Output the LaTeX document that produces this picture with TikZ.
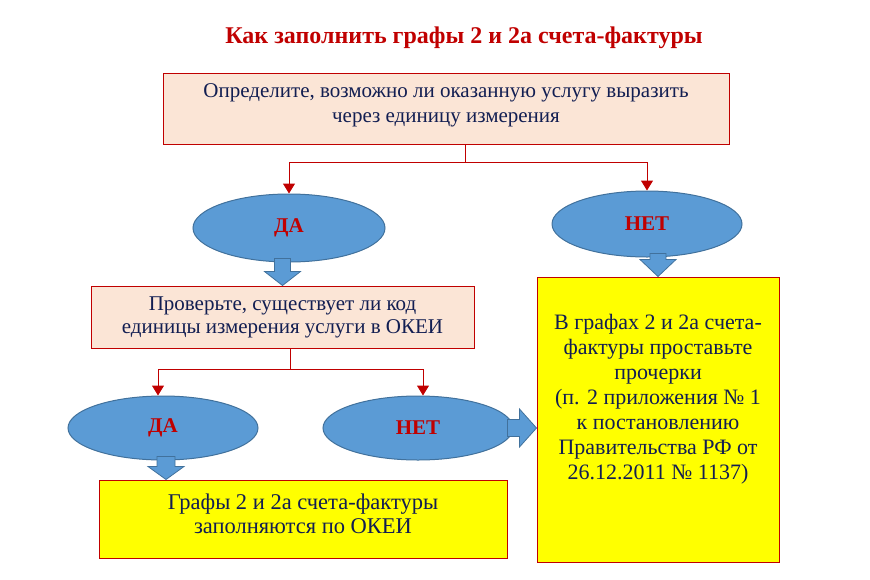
\documentclass[tikz,border=0pt]{standalone}
\usepackage{fontspec}
\setmainfont{Liberation Serif}
\usetikzlibrary{arrows.meta,calc,shapes.geometric}
\definecolor{tred}{RGB}{192,0,0}
\definecolor{peach}{RGB}{251,229,214}
\definecolor{navy}{RGB}{18,30,82}
\definecolor{ellfill}{RGB}{91,155,213}
\definecolor{ellline}{RGB}{65,113,156}
\definecolor{yel}{RGB}{255,255,0}
\tikzset{
  x=1pt,y=-1pt,
  peachbox/.style={draw=tred,fill=peach,line width=1pt,inner sep=0pt},
  yelbox/.style={draw=tred,fill=yel,line width=1pt,inner sep=0pt},
  boxtext/.style={text=navy,align=center,inner sep=0pt},
  oval/.style={ellipse,draw=ellline,fill=ellfill,line width=1pt,inner sep=0pt,text=tred,font=\fontsize{21}{24}\selectfont\bfseries},
  conn/.style={draw=tred,line width=1pt,-{Triangle[length=10pt,width=12pt]}},
  barrow/.style={draw=ellline,fill=ellfill,line width=0.8pt,line join=miter},
}
\begin{document}
\begin{tikzpicture}
\useasboundingbox (0,0) rectangle (870,579);
\node[text=tred,font=\fontsize{24}{28}\selectfont\bfseries] (title) at (464,38) {Как заполнить графы 2 и 2а счета-фактуры};
\node[peachbox,minimum width=566pt,minimum height=71pt] (box1) at (446,108.5) {};
\node[boxtext,font=\fontsize{21}{25}\selectfont] (box1t) at ([yshift=3pt]box1.center) {Определите, возможно ли оказанную услугу выразить\\через единицу  измерения};
\node[oval,minimum width=192pt,minimum height=68pt] (da1) at (289,228) {ДА};
\node[oval,minimum width=190pt,minimum height=66pt] (net1) at (647,224) {НЕТ};
\node[peachbox,minimum width=383pt,minimum height=62pt] (box2) at (282.5,317) {};
\node[boxtext,font=\fontsize{21}{23}\selectfont] (box2t) at (box2.center) {Проверьте, существует ли код\\единицы измерения  услуги в ОКЕИ};
\node[oval,minimum width=190pt,minimum height=64pt] (da2) at (163,428) {ДА};
\node[oval,minimum width=190pt,minimum height=64pt] (net2) at (418,428) {НЕТ};
\node[yelbox,minimum width=408pt,minimum height=78pt] (box3) at (303,519) {};
\node[boxtext,font=\fontsize{22.5}{24}\selectfont] (box3t) at ([yshift=5pt]box3.center) {Графы 2 и 2а счета-фактуры\\заполняются по ОКЕИ};
\node[yelbox,minimum width=242pt,minimum height=285pt] (box4) at (658,419.5) {};
\node[boxtext,font=\fontsize{22}{25}\selectfont] (box4t) at ([yshift=20pt]box4.center) {В графах 2 и 2а счета-\\фактуры проставьте\\прочерки\\(п. 2 приложения № 1\\к постановлению\\Правительства РФ от\\26.12.2011 № 1137)};
% thin connectors
\coordinate (s1) at ([xshift=19pt]box1.south);
\draw[conn] (s1) -- ++(0,18) -| (da1.north);
\draw[conn] (s1) -- ++(0,18) -| (net1.north);
\coordinate (s2) at ([xshift=7.5pt]box2.south);
\draw[conn] (s2) -- ++(0,21) -| ([xshift=-5pt]da2.north);
\draw[conn] (s2) -- ++(0,21) -| ([xshift=5pt]net2.north);
% block arrows
\draw[barrow] let \p1=(da1.south), \p2=(box2.north) in
  (\x2-8pt,\y1+4pt) -- (\x2-8pt,\y2+14pt) -- (\x2-18pt,\y2+14pt) -- (\x2,\y2) -- (\x2+18pt,\y2+14pt) -- (\x2+8pt,\y2+14pt) -- (\x2+8pt,\y1+4pt) -- cycle;
\draw[barrow] let \p1=(net1.south), \p2=(box4.north) in
  (\x2-8pt,\y1+4pt) -- (\x2-8pt,\y2+17pt) -- (\x2-18pt,\y2+17pt) -- (\x2,\y2) -- (\x2+18pt,\y2+17pt) -- (\x2+8pt,\y2+17pt) -- (\x2+8pt,\y1+4pt) -- cycle;
\draw[barrow] let \p1=(da2.south), \p2=([xshift=3pt]da2.south|-box3.north) in
  (\x2-9pt,\y1+4pt) -- (\x2-9pt,\y2+13pt) -- (\x2-18pt,\y2+13pt) -- (\x2,\y2) -- (\x2+18pt,\y2+13pt) -- (\x2+9pt,\y2+13pt) -- (\x2+9pt,\y1+4pt) -- cycle;
\draw[barrow] let \p1=(net2.east), \p2=(net2.east-|box4.west) in
  (\x1-6pt,\y2+8.5pt) -- (\x2-17pt,\y2+8.5pt) -- (\x2-17pt,\y2+19pt) -- (\x2,\y2) -- (\x2-17pt,\y2-19pt) -- (\x2-17pt,\y2-8.5pt) -- (\x1-6pt,\y2-8.5pt) -- cycle;
\end{tikzpicture}
\end{document}
